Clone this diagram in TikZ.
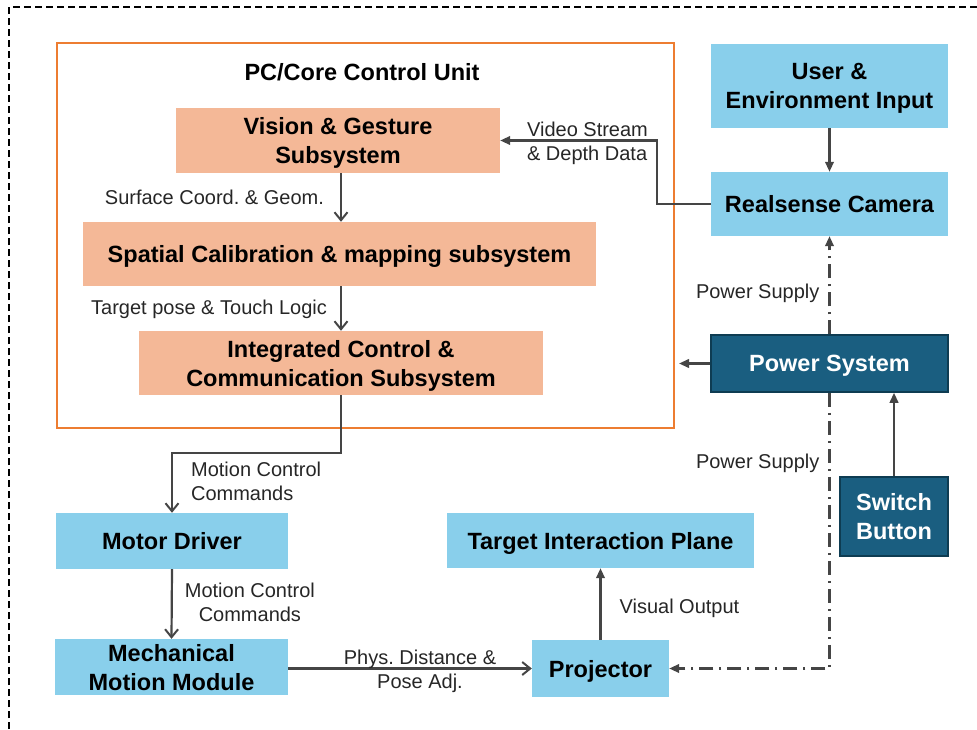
\documentclass[tikz,border=0pt]{standalone}
\usepackage{fontspec}
\setmainfont{Liberation Sans}
\usetikzlibrary{arrows.meta}

\definecolor{pcorange}{HTML}{ED7D31}
\definecolor{subfill}{HTML}{F4B897}
\definecolor{devfill}{HTML}{89CFEB}
\definecolor{pwrfill}{HTML}{1A5E80}
\definecolor{pwrline}{HTML}{0E3C52}
\definecolor{wire}{HTML}{454545}

\newcommand{\boxfont}{\bfseries\fontsize{23.5}{29}\selectfont}
\newcommand{\lblfont}{\frenchspacing\fontsize{20}{24}\selectfont}

\begin{document}
\begin{tikzpicture}[x=1pt,y=-1pt,
  sub/.style={fill=subfill,inner sep=0pt,text depth=0pt,align=center,font=\boxfont},
  dev/.style={fill=devfill,inner sep=0pt,text depth=0pt,align=center,font=\boxfont},
  pwr/.style={fill=pwrfill,draw=pwrline,line width=1.5pt,inner sep=0pt,text depth=0pt,align=center,font=\boxfont,text=white},
  lbl/.style={inner sep=2pt,font=\lblfont,text=black!85},
  flow/.style={draw=wire,line width=2.2pt,-{Straight Barb[length=8pt,width=13pt,line width=2pt]}},
  tri/.style={draw=wire,line width=2.2pt,-{Triangle[length=10pt,width=8.5pt]}},
  supply/.style={tri,dash pattern=on 14pt off 6pt on 2pt off 6pt}]
\useasboundingbox (0,0) rectangle (977,730);
\clip (0,0) rectangle (977,730);

% outer frame, open at right and bottom
\draw[line width=2.2pt,dash pattern=on 7pt off 4pt] (9,740) -- (9,7) -- (990,7);

% core control unit
\node[draw=pcorange,line width=2pt,minimum width=617pt,minimum height=385pt] (pc) at (365.5,235.5) {};
\node[font=\boxfont] (pctitle) at (362,72) {PC/Core Control Unit};
\node[sub,minimum width=324pt,minimum height=65pt] (vis) at (338,140.5) {Vision \& Gesture\\Subsystem};
\node[sub,minimum width=513pt,minimum height=64pt] (cal) at (339.5,254) {Spatial Calibration \& mapping subsystem};
\node[sub,minimum width=404pt,minimum height=64pt] (ctl) at (341,363) {Integrated Control \&\\Communication Subsystem};

% input side
\node[dev,minimum width=237pt,minimum height=84pt] (usr) at (829.5,86) {User \&\\Environment Input};
\node[dev,minimum width=237pt,minimum height=64pt] (cam) at (829.5,204) {Realsense Camera};
\node[pwr,minimum width=237pt,minimum height=57pt] (pow) at (829.5,363.5) {Power System};
\node[pwr,minimum width=108pt,minimum height=79pt] (sw) at (894,516.5) {Switch\\Button};

% actuation and output
\node[dev,minimum width=232pt,minimum height=56pt] (drv) at (172,541) {Motor Driver};
\node[dev,minimum width=233pt,minimum height=56pt] (mech) at (171.5,667) {Mechanical\\Motion Module};
\node[dev,minimum width=137pt,minimum height=57pt] (proj) at (600.5,668.5) {Projector};
\node[dev,minimum width=307pt,minimum height=55pt] (plane) at (600.5,540.5) {Target Interaction Plane};

% data flow inside the unit
\draw[flow] (vis.south -| ctl.north) -- (cal.north -| ctl.north)
  node[lbl,midway,left=14pt] {Surface Coord. \& Geom.};
\draw[flow] (cal.south -| ctl.north) -- (ctl.north)
  node[lbl,midway,left=11pt,yshift=-1pt] {Target pose \& Touch Logic};
\draw[tri] (cam.west) -- ++(-54,0) |- (vis.east)
  node[lbl,pos=0.75,xshift=9pt,yshift=-3pt,align=left] {Video Stream\\\& Depth Data};
\draw[tri] (usr.south) -- (cam.north);

% commands down to the mechanics
\draw[flow] (ctl.south) -- ++(0,58) -| (drv.north)
  node[lbl,pos=0.75,right=16pt,yshift=2pt,align=left] {Motion Control\\Commands};
\draw[flow] (drv.south) -- (mech.north)
  node[lbl,midway,right=10pt,yshift=2pt,align=center] {Motion Control\\Commands};
\draw[flow] (mech.east |- proj.west) -- (proj.west)
  node[lbl,midway,xshift=10pt,yshift=-3pt,align=center] {Phys. Distance \&\\Pose Adj.};
\draw[tri] (proj.north) -- (plane.south)
  node[lbl,midway,right=16pt,yshift=-4pt] {Visual Output};

% power distribution
\draw[tri,shorten >=4pt] (pow.west) -- (pow.west -| pc.east);
\draw[supply] (pow.north) -- (cam.south)
  node[lbl,midway,left=7pt,yshift=-8pt] {Power Supply};
\draw[supply] (pow.south) |- (proj.east)
  node[lbl,pos=0.125,left=7pt,yshift=-2pt] {Power Supply};
\draw[tri] (sw.north) -- (sw.north |- pow.south);
\end{tikzpicture}
\end{document}
